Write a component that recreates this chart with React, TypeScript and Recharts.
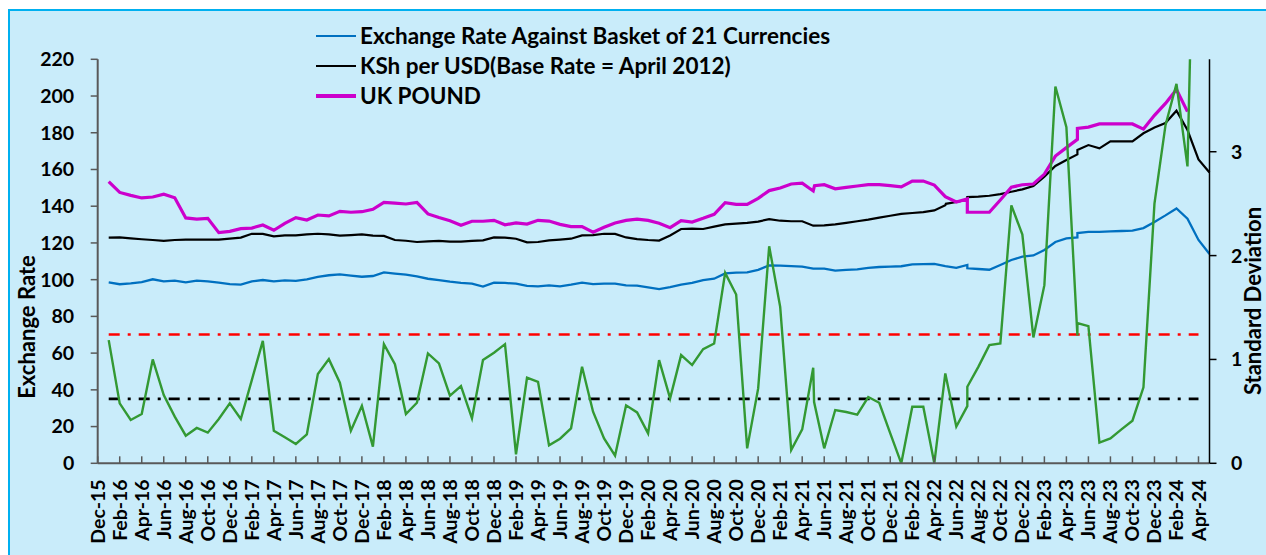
import React from "react";
import { Line, LineChart, ReferenceLine, XAxis, YAxis } from "recharts";

// month ticks, every second month from Dec-15 (position 0) to Apr-24 (position 100)
const tickLabels = [
  "Dec-15",
  "Feb-16", "Apr-16", "Jun-16", "Aug-16", "Oct-16", "Dec-16",
  "Feb-17", "Apr-17", "Jun-17", "Aug-17", "Oct-17", "Dec-17",
  "Feb-18", "Apr-18", "Jun-18", "Aug-18", "Oct-18", "Dec-18",
  "Feb-19", "Apr-19", "Jun-19", "Aug-19", "Oct-19", "Dec-19",
  "Feb-20", "Apr-20", "Jun-20", "Aug-20", "Oct-20", "Dec-20",
  "Feb-21", "Apr-21", "Jun-21", "Aug-21", "Oct-21", "Dec-21",
  "Feb-22", "Apr-22", "Jun-22", "Aug-22", "Oct-22", "Dec-22",
  "Feb-23", "Apr-23", "Jun-23", "Aug-23", "Oct-23", "Dec-23",
  "Feb-24", "Apr-24",
];

// monthly readings, first one sits at month position 1
const basket = [
  98.5, 97.5, 98.0, 98.7, 100.2, 99.1, 99.5, 98.5, 99.5, 99.1,
  98.4, 97.6, 97.3, 99.1, 99.8, 99.1, 99.6, 99.3, 100.2, 101.5,
  102.4, 102.9, 102.2, 101.6, 102.0, 104.0, 103.3, 102.7, 101.8, 100.5,
  99.8, 98.9, 98.2, 97.8, 96.2, 98.4, 98.2, 97.8, 96.6, 96.4,
  96.9, 96.4, 97.3, 98.4, 97.6, 97.8, 97.8, 96.9, 96.7, 95.8,
  94.9, 96.0, 97.3, 98.2, 99.8, 100.5, 103.4, 103.8, 104.0, 105.3,
  107.8, 107.6, 107.4, 107.1, 106.0, 106.0, 104.9, 105.3, 105.6, 106.4,
  106.9, 107.1, 107.3, 108.3, 108.5, 108.6, 107.4, 106.4, 108.0, 105.8,
  105.4, 108.0, 110.7, 112.5, 113.2, 116.2, 120.5, 122.5, 123.0, 126.0,
  126.0, 126.3, 126.5, 126.7, 128.1, 131.4, 135.0, 138.8, 133.2, 121.6,
  114.0,
];

const kshUsd = [
  122.9, 123.0, 122.5, 122.0, 121.6, 121.1, 121.6, 121.8, 121.8, 121.8,
  121.8, 122.3, 122.9, 125.0, 124.9, 123.6, 124.1, 124.1, 124.7, 125.0,
  124.7, 124.0, 124.3, 124.7, 124.0, 123.8, 121.6, 121.2, 120.5, 120.9,
  121.1, 120.7, 120.7, 121.1, 121.4, 123.0, 122.9, 122.3, 120.3, 120.5,
  121.4, 121.8, 122.3, 124.1, 124.3, 125.0, 124.9, 123.0, 122.1, 121.6,
  121.3, 124.1, 127.6, 127.8, 127.6, 128.9, 130.1, 130.5, 130.9, 131.6,
  133.0, 132.1, 131.8, 131.8, 129.4, 129.6, 130.1, 130.9, 131.8, 132.7,
  133.8, 134.8, 135.8, 136.3, 136.8, 137.7, 140.5, 142.3, 143.6, 145.2,
  145.7, 146.6, 147.9, 149.2, 151.0, 156.1, 161.9, 165.2, 168.2, 173.3,
  171.5, 175.3, 175.3, 175.3, 179.7, 182.9, 185.3, 192.0, 181.5, 165.5,
  158.4,
];

const ukPound = [
  153.4, 147.5, 145.9, 144.5, 145.0, 146.5, 144.6, 133.6, 133.0, 133.4,
  125.6, 126.3, 127.8, 128.1, 129.8, 126.9, 130.7, 133.8, 132.5, 135.2,
  134.7, 137.2, 136.7, 137.0, 138.3, 142.1, 141.7, 141.2, 142.1, 135.8,
  133.8, 132.1, 129.6, 131.8, 131.8, 132.3, 129.9, 130.9, 130.3, 132.3,
  131.9, 130.1, 128.9, 128.9, 125.8, 128.5, 130.9, 132.3, 133.0, 132.3,
  130.7, 128.3, 132.1, 131.4, 133.4, 135.6, 141.9, 141.0, 141.0, 144.3,
  148.5, 149.9, 152.1, 152.5, 148.3, 151.7, 149.5, 150.3, 151.0, 151.7,
  151.7, 151.2, 150.5, 153.7, 153.7, 151.5, 145.2, 142.3, 144.0, 136.7,
  136.7, 143.4, 150.3, 151.7, 152.1, 157.5, 167.3, 171.9, 176.4, 183.1,
  184.8, 184.8, 184.8, 184.8, 182.0, 189.5, 196.0, 203.6, 191.5,
];

const stdDev = [
  1.186, 0.577, 0.417, 0.474, 1.0, 0.657, 0.449, 0.266, 0.34, 0.295,
  0.426, 0.577, 0.426, 0.801, 1.179, 0.314, 0.25, 0.186, 0.279, 0.859,
  1.003, 0.776, 0.314, 0.554, 0.16, 1.147, 0.955, 0.474, 0.583, 1.058,
  0.962, 0.651, 0.744, 0.433, 0.994, 1.064, 1.147, 0.087, 0.824, 0.785,
  0.173, 0.237, 0.337, 0.929, 0.497, 0.24, 0.074, 0.558, 0.49, 0.288,
  0.994, 0.625, 1.042, 0.946, 1.099, 1.154, 1.833, 1.625, 0.144, 0.721,
  2.09, 1.506, 0.128, 0.327, 0.92, 0.144, 0.513, 0.494, 0.468, 0.638,
  0.583, 0.288, 0.0, 0.545, 0.545, 0.0, 0.865, 0.353, 0.551, 0.929,
  1.138, 1.154, 2.484, 2.202, 1.212, 1.715, 3.628, 3.237, 1.23, 1.32,
  0.2, 0.24, 0.327, 0.41, 0.731, 2.5, 3.253, 3.654, 2.859,
];

// second readings inside a month (drawn as the jumps): [position, value]
const basketSteps = [[79, 106.2], [89, 125.4]];
const kshSteps = [[77.05, 141.3], [79, 145.0], [89, 170.6]];
const poundSteps = [[65.12, 151.2], [79, 136.7], [89, 182.4]];
const sdSteps = [[65.08, 0.59], [79, 0.737], [89, 1.35], [99.25, 4.0]];

// thresholds in standard deviations
const sdBand = 0.62;
const sdBandHigh = 1.24;

const FONT = "Lato, 'Noto Sans', sans-serif";

function buildSeries(values: number[], steps: number[][]) {
  const pts = values.map((v, i) => ({ x: i + 1, v, o: 0 }));
  steps.forEach(([x, v]) => pts.push({ x, v, o: 1 }));
  return pts.sort((a, b) => a.x - b.x || a.o - b.o);
}

const basketData = buildSeries(basket, basketSteps);
const kshData = buildSeries(kshUsd, kshSteps);
const poundData = buildSeries(ukPound, poundSteps);
const sdData = buildSeries(stdDev, sdSteps);

const MonthTick = (props: any) => {
  const { x, y, payload } = props;
  const label = tickLabels[Math.round(payload.value / 2)];
  const ty = y + 16;
  return (
    <g>
      <line x1={x} x2={x} y1={y - 7} y2={y} stroke="#595959" strokeWidth={1.5} />
      <text
        x={x}
        y={ty}
        dy="0.36em"
        transform={`rotate(-90 ${x} ${ty})`}
        textAnchor="end"
        fill="#000"
        fontSize={19.5}
        fontWeight={700}
        fontFamily={FONT}
      >
        {label}
      </text>
    </g>
  );
};

const legendItems = [
  { name: "Exchange Rate Against Basket of 21 Currencies", color: "#0070C0", w: 2.3 },
  { name: "KSh per USD(Base Rate = April 2012)", color: "#000000", w: 2.3 },
  { name: "UK POUND", color: "#CC00CC", w: 3.2 },
];

const titleStyle: React.CSSProperties = {
  position: "absolute",
  height: 26,
  lineHeight: "26px",
  textAlign: "center",
  transform: "rotate(-90deg)",
  fontFamily: FONT,
  fontWeight: 700,
  fontSize: 22,
  color: "#000",
  whiteSpace: "nowrap",
};

export default function App() {
  const axisTick = { fill: "#000", fontSize: 19.5, fontWeight: 700, fontFamily: FONT };
  return (
    <div style={{ position: "relative", width: 1266, height: 555, overflow: "hidden", background: "#fff" }}>
      <style>{"body{margin:0}"}</style>
      <div
        style={{
          position: "absolute",
          left: 8,
          top: 9,
          width: 1300,
          height: 600,
          background: "#C9ECFA",
          borderTop: "2.5px solid #00B0F0",
          borderLeft: "2.5px solid #00B0F0",
        }}
      />
      <LineChart
        width={1266}
        height={555}
        margin={{ top: 59.3, right: 0, bottom: 0, left: 0 }}
        style={{ position: "absolute", left: 0, top: 0 }}
      >
        <XAxis
          type="number"
          dataKey="x"
          domain={[0, 101]}
          ticks={tickLabels.map((_, i) => i * 2)}
          interval={0}
          height={91.7}
          tickSize={0}
          tickMargin={0}
          tickLine={false}
          axisLine={{ stroke: "#595959", strokeWidth: 2 }}
          tick={<MonthTick />}
        />
        <YAxis
          yAxisId="left"
          domain={[0, 220]}
          ticks={[0, 20, 40, 60, 80, 100, 120, 140, 160, 180, 200, 220]}
          width={97.7}
          tickSize={7}
          tickMargin={16.5}
          axisLine={{ stroke: "#595959", strokeWidth: 2 }}
          tickLine={{ stroke: "#595959", strokeWidth: 1.5 }}
          tick={axisTick}
        />
        <YAxis
          yAxisId="right"
          orientation="right"
          domain={[0, 3.89]}
          allowDataOverflow
          ticks={[0, 1, 2, 3]}
          width={56.5}
          tickSize={7}
          tickMargin={14.5}
          axisLine={{ stroke: "#000", strokeWidth: 1.5 }}
          tickLine={{ stroke: "#000", strokeWidth: 1.5 }}
          tick={{ ...axisTick, textAnchor: "start" }}
        />
        <ReferenceLine
          yAxisId="right"
          segment={[{ x: 1, y: sdBandHigh }, { x: 100, y: sdBandHigh }]}
          stroke="#FF0000"
          strokeWidth={2.7}
          strokeDasharray="11 8 3 8"
        />
        <ReferenceLine
          yAxisId="right"
          segment={[{ x: 1, y: sdBand }, { x: 100, y: sdBand }]}
          stroke="#000000"
          strokeWidth={2.7}
          strokeDasharray="11 8 3 8"
        />
        <Line yAxisId="left" data={basketData} dataKey="v" type="linear" stroke="#0070C0" strokeWidth={2.3} dot={false} isAnimationActive={false} />
        <Line yAxisId="left" data={kshData} dataKey="v" type="linear" stroke="#000000" strokeWidth={2.2} dot={false} isAnimationActive={false} />
        <Line yAxisId="left" data={poundData} dataKey="v" type="linear" stroke="#CC00CC" strokeWidth={3.2} dot={false} isAnimationActive={false} />
        <Line yAxisId="right" data={sdData} dataKey="v" type="linear" stroke="#339933" strokeWidth={2.4} dot={false} isAnimationActive={false} />
      </LineChart>

      <div style={{ position: "absolute", left: 316, top: 21, fontFamily: FONT, fontWeight: 700, fontSize: 22.5, color: "#000" }}>
        {legendItems.map((it) => (
          <div key={it.name} style={{ display: "flex", alignItems: "center", height: 30 }}>
            <span style={{ display: "inline-block", width: 40, height: it.w, background: it.color, marginRight: 4 }} />
            <span style={{ lineHeight: "30px", whiteSpace: "nowrap" }}>{it.name}</span>
          </div>
        ))}
      </div>

      <div style={{ ...titleStyle, left: 27 - 110, top: 327 - 13, width: 220 }}>Exchange Rate</div>
      <div style={{ ...titleStyle, left: 1253 - 120, top: 301 - 13, width: 240 }}>Standard Deviation</div>
    </div>
  );
}
